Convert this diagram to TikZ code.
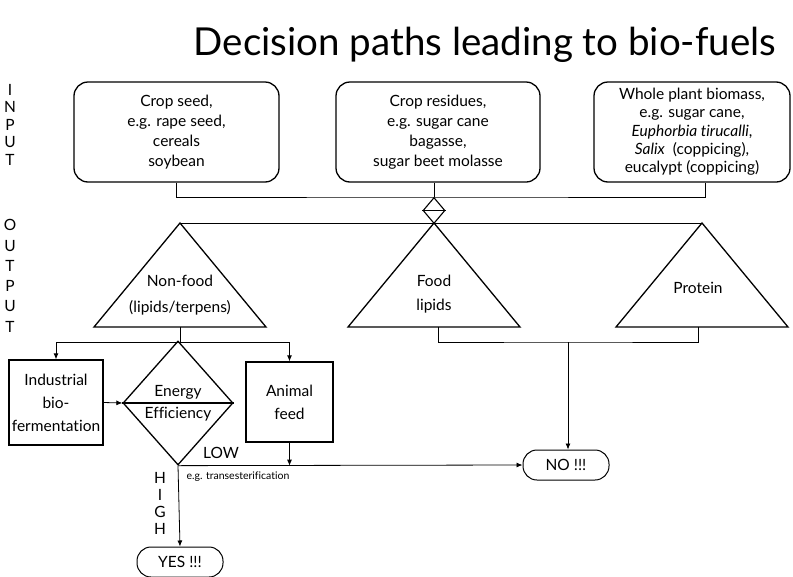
\documentclass[tikz,border=0pt]{standalone}
\usepackage{fontspec}
\setmainfont{Lato}[Ligatures={NoCommon}]
\usetikzlibrary{calc,arrows.meta,shapes.geometric}

\begin{document}
\begin{tikzpicture}[x=1pt,y=-1pt,
  inbox/.style={draw,line width=1.3pt,rounded corners=14pt,minimum height=100pt,align=center,font=\fontsize{15.5}{20}\selectfont},
  outbox/.style={draw,line width=1.3pt,align=center,inner sep=1pt,font=\fontsize{15.5}{23}\selectfont},
  ending/.style={draw,line width=1pt,rounded corners=14pt,minimum width=86pt,minimum height=30pt,font=\fontsize{15.5}{17}\selectfont},
  tri/.style={line width=1.3pt,line join=miter},
  lbl/.style={font=\fontsize{15.5}{20}\selectfont,align=center},
  conn/.style={line width=0.8pt},
  arr/.style={conn,-{Latex[length=6pt,width=5pt]}}]
\useasboundingbox (0,0) rectangle (793,576);

% title
\node[font=\fontsize{38.5}{40}\selectfont] (title) at (485,45) {Decision paths leading to bio-fuels};

% side letters
\foreach \c [count=\i] in {I,N,P,U,T}{\node[lbl] at (10,{72+17.5*\i}) {\c};}
\foreach \c [count=\i] in {O,U,T,P,U,T}{\node[lbl] at (10,{205+20.3*\i}) {\c};}

% inputs
\node[inbox,minimum width=205pt] (seed) at (176.5,132) {Crop seed,\\e.g. rape seed,\\cereals\\soybean};
\node[inbox,minimum width=204pt] (resid) at (438,132) {Crop residues,\\e.g. sugar cane\\bagasse,\\sugar beet molasse};
\node[inbox,minimum width=196pt,font=\fontsize{15.5}{18.3}\selectfont] (whole) at (692,132) {Whole plant biomass,\\e.g. sugar cane,\\\textit{Euphorbia tirucalli},\\\textit{Salix}\ \ (coppicing),\\eucalypt (coppicing)};

% merge
\node[draw,diamond,line width=1.1pt,inner sep=0pt,minimum width=22pt,minimum height=26pt] (merge) at (434,210.5) {};
\draw[line width=1.1pt] (merge.west) -- (merge.east);
\coordinate (bus) at (434,197);
\draw[conn] (seed.south) |- (bus) -| ([xshift=13pt]whole.south);
\draw[conn] (merge.north |- resid.south) -- (merge.north);

% outputs
\coordinate (nfTop) at (180,223);
\coordinate (foodTop) at (434,223);
\coordinate (prTop) at (702,223);
\draw[conn] (nfTop) -- (prTop);
\draw[tri] (nfTop) -- ++(86,104) -- ++(-172,0) -- cycle;
\draw[tri] (foodTop) -- ++(86,104) -- ++(-172,0) -- cycle;
\draw[tri] (prTop) -- ++(86,104) -- ++(-172,0) -- cycle;
\node[lbl,font=\fontsize{15.5}{26}\selectfont] (nf) at (180,295) {Non-food\\(lipids/terpens)};
\node[lbl,font=\fontsize{15.5}{24}\selectfont] (food) at (434,294) {Food\\lipids};
\node[lbl] (prot) at (698,288) {Protein};

\coordinate (nfBase) at (180,327);
\coordinate (foodBase) at (438,327);
\coordinate (prBase) at (698,327);
\coordinate (nfSplit) at (180,342);
\coordinate (fpJoin) at (568,342);

% processing
\node[outbox,minimum width=94pt,minimum height=85pt] (ind) at (56,402.5) {Industrial\\bio-\\fermentation};
\node[draw,diamond,line width=1.3pt,inner sep=0pt,minimum width=110pt,minimum height=124pt] (eff) at (178,403) {};
\draw[line width=1.3pt] (eff.west) -- (eff.east);
\node[lbl,font=\fontsize{15.5}{22}\selectfont] (efftxt) at (178,403) {Energy\\Efficiency};
\node[outbox,minimum width=87pt,minimum height=80pt] (feed) at (289.5,402) {Animal\\feed};

\node[ending] (no) at (566,465) {NO !!!};
\node[ending] (yes) at (180,562) {YES !!!};

\draw[conn] (nfBase) -- (nfSplit);
\draw[arr] (nfSplit) -| (ind.north);
\draw[arr] (nfSplit) -| (feed.north);
\draw[arr] (ind.east) -- (eff.west);
\draw[conn] (foodBase) |- (fpJoin) -| (prBase);
\draw[arr] (fpJoin) -- (fpJoin |- no.north);
\draw[arr] (eff.south) -- (no.west);
\draw[arr] (feed.south) -- (feed.south |- eff.south);
\draw[arr] (eff.south) -- (yes.north);

\node[lbl] (low) at (221,453) {LOW};
\node[font=\fontsize{10.5}{12}\selectfont,anchor=west] (trans) at (183,477) {e.g. transesterification};
\foreach \c [count=\i] in {H,I,G,H}{\node[lbl] at (160,{461+17*\i}) {\c};}
\end{tikzpicture}
\end{document}
